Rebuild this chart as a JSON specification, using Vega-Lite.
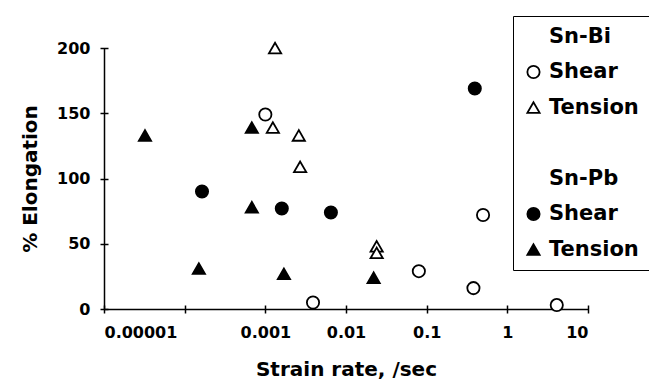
{
  "$schema": "https://vega.github.io/schema/vega-lite/v6.json",
  "autosize": {"type": "none"},
  "padding": {"left": 104, "top": 48, "right": 61, "bottom": 81},
  "width": 484,
  "height": 261,
  "background": "white",
  "config": {
    "view": {"stroke": null},
    "font": "DejaVu Sans",
    "axis": {
      "labelFont": "DejaVu Sans", "labelFontWeight": "bold", "labelFontSize": 16, "labelColor": "black",
      "titleFont": "DejaVu Sans", "titleFontWeight": "bold", "titleFontSize": 20, "titleColor": "black",
      "domainColor": "black", "domainWidth": 1.5, "tickColor": "black", "tickWidth": 1.5, "grid": false
    },
    "legend": {
      "labelFont": "DejaVu Sans", "labelFontWeight": "bold", "labelFontSize": 21, "labelColor": "black"
    }
  },
  "data": {
    "values": [
      {"rate": 0.001, "elong": 149, "series": "Sn-Bi|Shear"},
      {"rate": 0.0039, "elong": 5, "series": "Sn-Bi|Shear"},
      {"rate": 0.08, "elong": 29, "series": "Sn-Bi|Shear"},
      {"rate": 0.38, "elong": 16, "series": "Sn-Bi|Shear"},
      {"rate": 0.5, "elong": 72, "series": "Sn-Bi|Shear"},
      {"rate": 4.1, "elong": 3, "series": "Sn-Bi|Shear"},
      {"rate": 0.00132, "elong": 200, "series": "Sn-Bi|Tension"},
      {"rate": 0.00124, "elong": 139, "series": "Sn-Bi|Tension"},
      {"rate": 0.0026, "elong": 133, "series": "Sn-Bi|Tension"},
      {"rate": 0.0027, "elong": 109, "series": "Sn-Bi|Tension"},
      {"rate": 0.024, "elong": 48, "series": "Sn-Bi|Tension"},
      {"rate": 0.024, "elong": 43, "series": "Sn-Bi|Tension"},
      {"rate": 0.000164, "elong": 90, "series": "Sn-Pb|Shear"},
      {"rate": 0.0016, "elong": 77, "series": "Sn-Pb|Shear"},
      {"rate": 0.0065, "elong": 74, "series": "Sn-Pb|Shear"},
      {"rate": 0.395, "elong": 169, "series": "Sn-Pb|Shear"},
      {"rate": 0.0000322, "elong": 133, "series": "Sn-Pb|Tension"},
      {"rate": 0.00068, "elong": 139, "series": "Sn-Pb|Tension"},
      {"rate": 0.00068, "elong": 78, "series": "Sn-Pb|Tension"},
      {"rate": 0.00015, "elong": 31, "series": "Sn-Pb|Tension"},
      {"rate": 0.0017, "elong": 27, "series": "Sn-Pb|Tension"},
      {"rate": 0.022, "elong": 24, "series": "Sn-Pb|Tension"}
    ]
  },
  "layer": [
    {
      "mark": {"type": "point", "filled": true, "size": 150, "strokeWidth": 1.8, "opacity": 1},
      "encoding": {
        "x": {
          "field": "rate", "type": "quantitative",
          "scale": {"type": "log", "domain": [0.00001, 10], "nice": false},
          "axis": {
            "values": [0.00001, 0.0001, 0.001, 0.01, 0.1, 1, 10], "format": "~f",
            "domain": false, "offset": -4, "tickSize": 8, "labelPadding": 11,
            "title": "Strain rate, /sec", "titlePadding": 19, "orient": "bottom"
          }
        },
        "y": {
          "field": "elong", "type": "quantitative",
          "scale": {"domain": [0, 200], "nice": false},
          "axis": {
            "values": [0, 50, 100, 150, 200],
            "domain": false, "offset": -4, "tickSize": 8, "labelPadding": 10,
            "title": "% Elongation", "titlePadding": 16, "orient": "left"
          }
        },
        "shape": {
          "field": "series", "type": "nominal",
          "scale": {
            "domain": ["Sn-Bi", "Sn-Bi|Shear", "Sn-Bi|Tension", " ", "Sn-Pb", "Sn-Pb|Shear", "Sn-Pb|Tension"],
            "range": ["circle", "circle", "triangle-up", "circle", "circle", "circle", "triangle-up"]
          },
          "legend": {
            "title": null, "orient": "none", "legendX": 409, "legendY": -32,
            "strokeColor": "black", "padding": 10, "rowPadding": 13.5,
            "labelOffset": 5, "symbolSize": 150, "symbolStrokeWidth": 1.8,
            "labelExpr": "indexof(datum.label, '|') > 0 ? substring(datum.label, indexof(datum.label, '|') + 1) : datum.label"
          }
        },
        "fill": {
          "field": "series", "type": "nominal",
          "scale": {
            "domain": ["Sn-Bi", "Sn-Bi|Shear", "Sn-Bi|Tension", " ", "Sn-Pb", "Sn-Pb|Shear", "Sn-Pb|Tension"],
            "range": ["transparent", "white", "white", "transparent", "transparent", "black", "black"]
          },
          "legend": {
            "title": null, "orient": "none", "legendX": 409, "legendY": -32,
            "strokeColor": "black", "padding": 10, "rowPadding": 13.5,
            "labelOffset": 5, "symbolSize": 150, "symbolStrokeWidth": 1.8,
            "labelExpr": "indexof(datum.label, '|') > 0 ? substring(datum.label, indexof(datum.label, '|') + 1) : datum.label"
          }
        },
        "stroke": {
          "field": "series", "type": "nominal",
          "scale": {
            "domain": ["Sn-Bi", "Sn-Bi|Shear", "Sn-Bi|Tension", " ", "Sn-Pb", "Sn-Pb|Shear", "Sn-Pb|Tension"],
            "range": ["transparent", "black", "black", "transparent", "transparent", "black", "black"]
          },
          "legend": {
            "title": null, "orient": "none", "legendX": 409, "legendY": -32,
            "strokeColor": "black", "padding": 10, "rowPadding": 13.5,
            "labelOffset": 5, "symbolSize": 150, "symbolStrokeWidth": 1.8,
            "labelExpr": "indexof(datum.label, '|') > 0 ? substring(datum.label, indexof(datum.label, '|') + 1) : datum.label"
          }
        }
      }
    },
    {
      "mark": {"type": "point", "opacity": 0},
      "encoding": {
        "x": {
          "field": "rate", "type": "quantitative",
          "axis": {"orient": "bottom", "ticks": false, "labels": false, "title": null, "domain": true}
        },
        "y": {
          "field": "elong", "type": "quantitative",
          "axis": {"orient": "left", "ticks": false, "labels": false, "title": null, "domain": true}
        }
      }
    }
  ],
  "resolve": {"axis": {"x": "independent", "y": "independent"}}
}
